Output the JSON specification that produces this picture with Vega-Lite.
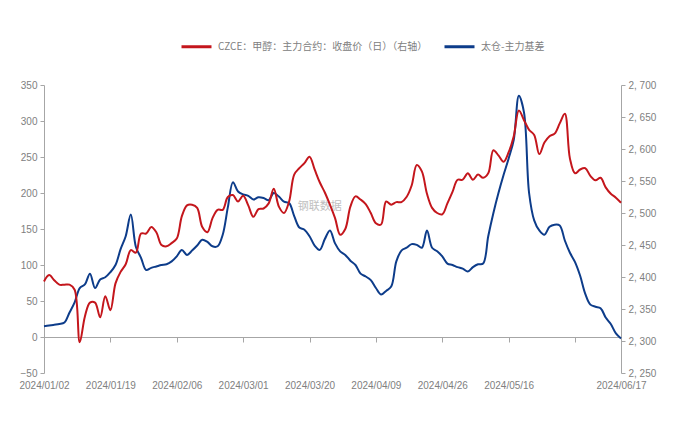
{
  "$schema": "https://vega.github.io/schema/vega-lite/v6.json",
  "width": 577,
  "height": 288,
  "autosize": {"type": "none"},
  "padding": {"left": 44, "top": 85, "right": 79, "bottom": 65},
  "background": "white",
  "config": {
    "view": {"stroke": null},
    "font": "Liberation Sans",
    "axis": {"labelFont": "Liberation Sans", "labelFontSize": 10, "labelColor": "#808080", "domainColor": "#a6a6a6", "tickColor": "#a6a6a6", "grid": false, "title": null},
    "axisY": {"labelOverlap": false}
  },
  "data": {"values": [
    {"date":"2024/01/02","basis":15,"price":2393},
    {"date":"2024/01/03","basis":16,"price":2403},
    {"date":"2024/01/04","basis":17,"price":2395},
    {"date":"2024/01/05","basis":18,"price":2388},
    {"date":"2024/01/08","basis":20,"price":2388},
    {"date":"2024/01/09","basis":34,"price":2388},
    {"date":"2024/01/10","basis":48,"price":2380},
    {"date":"2024/01/11","basis":68,"price":2298},
    {"date":"2024/01/12","basis":73,"price":2338},
    {"date":"2024/01/15","basis":88,"price":2360},
    {"date":"2024/01/16","basis":68,"price":2360},
    {"date":"2024/01/17","basis":80,"price":2337},
    {"date":"2024/01/18","basis":83,"price":2370},
    {"date":"2024/01/19","basis":90,"price":2348},
    {"date":"2024/01/22","basis":100,"price":2390},
    {"date":"2024/01/23","basis":122,"price":2408},
    {"date":"2024/01/24","basis":140,"price":2420},
    {"date":"2024/01/25","basis":170,"price":2442},
    {"date":"2024/01/26","basis":125,"price":2438},
    {"date":"2024/01/29","basis":110,"price":2468},
    {"date":"2024/01/30","basis":93,"price":2468},
    {"date":"2024/01/31","basis":96,"price":2478},
    {"date":"2024/02/01","basis":98,"price":2470},
    {"date":"2024/02/02","basis":100,"price":2450},
    {"date":"2024/02/04","basis":101,"price":2448},
    {"date":"2024/02/05","basis":105,"price":2453},
    {"date":"2024/02/06","basis":112,"price":2460},
    {"date":"2024/02/07","basis":121,"price":2495},
    {"date":"2024/02/08","basis":114,"price":2512},
    {"date":"2024/02/18","basis":120,"price":2513},
    {"date":"2024/02/19","basis":127,"price":2508},
    {"date":"2024/02/20","basis":135,"price":2478},
    {"date":"2024/02/21","basis":132,"price":2470},
    {"date":"2024/02/22","basis":126,"price":2492},
    {"date":"2024/02/23","basis":126,"price":2505},
    {"date":"2024/02/26","basis":142,"price":2505},
    {"date":"2024/02/27","basis":180,"price":2525},
    {"date":"2024/02/28","basis":215,"price":2528},
    {"date":"2024/02/29","basis":202,"price":2518},
    {"date":"2024/03/01","basis":198,"price":2527},
    {"date":"2024/03/04","basis":196,"price":2512},
    {"date":"2024/03/05","basis":191,"price":2494},
    {"date":"2024/03/06","basis":194,"price":2506},
    {"date":"2024/03/07","basis":193,"price":2507},
    {"date":"2024/03/08","basis":190,"price":2515},
    {"date":"2024/03/11","basis":200,"price":2538},
    {"date":"2024/03/12","basis":195,"price":2510},
    {"date":"2024/03/13","basis":188,"price":2500},
    {"date":"2024/03/14","basis":186,"price":2518},
    {"date":"2024/03/15","basis":168,"price":2560},
    {"date":"2024/03/18","basis":152,"price":2570},
    {"date":"2024/03/19","basis":149,"price":2578},
    {"date":"2024/03/20","basis":140,"price":2588},
    {"date":"2024/03/21","basis":127,"price":2568},
    {"date":"2024/03/22","basis":121,"price":2548},
    {"date":"2024/03/25","basis":136,"price":2532},
    {"date":"2024/03/26","basis":148,"price":2513},
    {"date":"2024/03/27","basis":130,"price":2492},
    {"date":"2024/03/28","basis":119,"price":2466},
    {"date":"2024/03/29","basis":114,"price":2475},
    {"date":"2024/04/01","basis":106,"price":2510},
    {"date":"2024/04/02","basis":100,"price":2526},
    {"date":"2024/04/03","basis":88,"price":2521},
    {"date":"2024/04/07","basis":84,"price":2514},
    {"date":"2024/04/08","basis":79,"price":2500},
    {"date":"2024/04/09","basis":68,"price":2484},
    {"date":"2024/04/10","basis":59,"price":2482},
    {"date":"2024/04/11","basis":64,"price":2518},
    {"date":"2024/04/12","basis":70,"price":2513},
    {"date":"2024/04/15","basis":105,"price":2517},
    {"date":"2024/04/16","basis":120,"price":2517},
    {"date":"2024/04/17","basis":124,"price":2525},
    {"date":"2024/04/18","basis":129,"price":2543},
    {"date":"2024/04/19","basis":128,"price":2575},
    {"date":"2024/04/22","basis":124,"price":2565},
    {"date":"2024/04/23","basis":148,"price":2530},
    {"date":"2024/04/24","basis":124,"price":2508},
    {"date":"2024/04/25","basis":119,"price":2500},
    {"date":"2024/04/26","basis":112,"price":2498},
    {"date":"2024/04/28","basis":102,"price":2515},
    {"date":"2024/04/29","basis":100,"price":2533},
    {"date":"2024/04/30","basis":97,"price":2552},
    {"date":"2024/05/06","basis":95,"price":2552},
    {"date":"2024/05/07","basis":91,"price":2562},
    {"date":"2024/05/08","basis":97,"price":2552},
    {"date":"2024/05/09","basis":101,"price":2560},
    {"date":"2024/05/10","basis":102,"price":2555},
    {"date":"2024/05/11","basis":140,"price":2562},
    {"date":"2024/05/13","basis":172,"price":2598},
    {"date":"2024/05/14","basis":200,"price":2590},
    {"date":"2024/05/15","basis":225,"price":2580},
    {"date":"2024/05/16","basis":248,"price":2595},
    {"date":"2024/05/17","basis":274,"price":2620},
    {"date":"2024/05/20","basis":335,"price":2660},
    {"date":"2024/05/21","basis":312,"price":2645},
    {"date":"2024/05/22","basis":200,"price":2630},
    {"date":"2024/05/23","basis":162,"price":2622},
    {"date":"2024/05/24","basis":148,"price":2592},
    {"date":"2024/05/27","basis":142,"price":2610},
    {"date":"2024/05/28","basis":153,"price":2620},
    {"date":"2024/05/29","basis":156,"price":2624},
    {"date":"2024/05/30","basis":155,"price":2640},
    {"date":"2024/05/31","basis":134,"price":2655},
    {"date":"2024/06/03","basis":117,"price":2585},
    {"date":"2024/06/04","basis":104,"price":2562},
    {"date":"2024/06/05","basis":85,"price":2568},
    {"date":"2024/06/06","basis":60,"price":2570},
    {"date":"2024/06/07","basis":45,"price":2558},
    {"date":"2024/06/10","basis":42,"price":2551},
    {"date":"2024/06/11","basis":40,"price":2555},
    {"date":"2024/06/12","basis":27,"price":2540},
    {"date":"2024/06/13","basis":18,"price":2530},
    {"date":"2024/06/14","basis":5,"price":2524},
    {"date":"2024/06/17","basis":-2,"price":2516}
  ]},
  "encoding": {
    "x": {
      "field": "date", "type": "ordinal",
      "scale": {"type": "point", "padding": 0},
      "axis": {
        "values": ["2024/01/02","2024/01/19","2024/02/06","2024/03/01","2024/03/20","2024/04/09","2024/04/26","2024/05/16","2024/06/04","2024/06/17"],
        "labelExpr": "datum.value == '2024/06/04' ? '' : datum.label",
        "labelAngle": 0, "labelOverlap": false, "labelFlush": false,
        "offset": -36, "tickSize": 5, "labelPadding": 38, "labelBaseline": "top"
      }
    }
  },
  "layer": [
    {
      "layer": [
        {
          "mark": {"type": "line", "interpolate": "catmull-rom", "strokeWidth": 2},
          "encoding": {
            "y": {"field": "basis", "type": "quantitative",
              "scale": {"domain": [-50, 350], "nice": false, "zero": false},
              "axis": {"orient": "left", "values": [-50,0,50,100,150,200,250,300,350], "labelOverlap": false, "tickSize": 4, "labelPadding": 3}},
            "color": {"datum": "太仓-主力基差", "type": "nominal",
              "scale": {"domain": ["CZCE：甲醇：主力合约：收盘价（日）（右轴）", "太仓-主力基差"], "range": ["#C4161C", "#0D3C8A"]},
              "legend": {"orient": "none", "legendX": 136, "legendY": -55, "direction": "horizontal", "title": null,
                "symbolType": "stroke", "symbolSize": 900, "symbolStrokeWidth": 3, "labelLimit": 400,
                "labelFont": "Noto Sans CJK SC", "labelFontSize": 10, "labelColor": "#808080", "labelOffset": 5, "columnPadding": 10}}
          }
        },
        {
          "data": {"values": [{"date": "2024/03/22", "basis": 180, "label": "钢联数据"}]},
          "mark": {"type": "text", "font": "Noto Sans CJK SC", "fontSize": 11, "color": "#b0b0b0", "opacity": 0.8},
          "encoding": {
            "y": {"field": "basis", "type": "quantitative",
              "axis": {"orient": "left", "values": [-50,0,50,100,150,200,250,300,350], "labelOverlap": false, "tickSize": 4, "labelPadding": 3}},
            "text": {"field": "label"}
          }
        }
      ]
    },
    {
      "mark": {"type": "line", "interpolate": "catmull-rom", "strokeWidth": 2},
      "encoding": {
        "y": {"field": "price", "type": "quantitative",
          "scale": {"domain": [2250, 2700], "nice": false, "zero": false},
          "axis": {"orient": "right", "values": [2250,2300,2350,2400,2450,2500,2550,2600,2650,2700], "labelOverlap": false, "labelExpr": "replace(format(datum.value, ',.0f'), ',', ', ')", "tickSize": 4, "labelPadding": 3}},
        "color": {"datum": "CZCE：甲醇：主力合约：收盘价（日）（右轴）", "type": "nominal"}
      }
    }
  ],
  "resolve": {"scale": {"y": "independent"}}
}
